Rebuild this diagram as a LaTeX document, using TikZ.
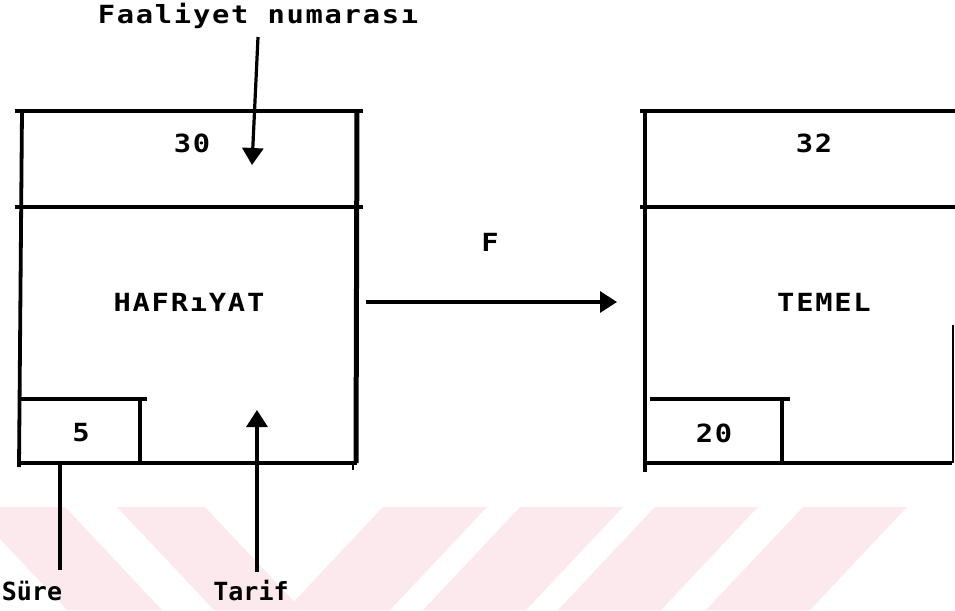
\documentclass[tikz,border=0pt]{standalone}
\usepackage{fontspec}
\newfontfamily\dotfont[FakeStretch=1.15,LetterSpace=7,BoldFont={DejaVu Sans Mono Bold},BoldFeatures={FakeStretch=1.15,LetterSpace=7}]{DejaVu Sans Mono}
\newfontfamily\dotfontb[BoldFont={DejaVu Sans Mono Bold}]{DejaVu Sans Mono}
\usetikzlibrary{arrows.meta}
\definecolor{wm}{RGB}{252,233,237}
\tikzset{
  lbl/.style={inner sep=0pt, font=\dotfont\bfseries\fontsize{25}{29}\selectfont},
  lblb/.style={inner sep=0pt, font=\dotfontb\bfseries\fontsize{25}{29}\selectfont},
  hline/.style={line width=3.2pt},
  vline/.style={line width=3.8pt},
  arr/.style={line width=3.2pt, -{Triangle[length=17pt,width=21pt]}},
  wmark/.style={fill=wm, draw=none}
}
\begin{document}
\begin{tikzpicture}[x=1pt,y=-1pt]
\useasboundingbox (0,0) rectangle (955,610);
% watermark stripes
\begin{scope}
\clip (0,0) rectangle (955,610);
\fill[wmark] (-30,507) -- (65,507) -- (162,610) -- (67,610) -- cycle;
\fill[wmark] (117,507) -- (205,507) -- (302,610) -- (214,610) -- cycle;
\fill[wmark] (383,507) -- (487,507) -- (390,610) -- (286,610) -- cycle;
\fill[wmark] (520,507) -- (623,507) -- (526,610) -- (423,610) -- cycle;
\fill[wmark] (655,507) -- (758,507) -- (661,610) -- (558,610) -- cycle;
\fill[wmark] (803,507) -- (907,507) -- (810,610) -- (706,610) -- cycle;
\end{scope}
% left activity box
\draw[hline] (15,111) -- (363,111);
\draw[hline] (15,207) -- (363,207);
\draw[hline] (18,463) -- (357,463);
\draw[vline] (22,111) -- (19,467);
\draw[line width=5pt] (357,111) -- (356,463);
\draw[line width=2.6pt] (353,463) -- (353,470);
\draw[hline] (20,399) -- (147,399);
\draw[vline] (140,399) -- (140,463);
% right activity box
\draw[hline] (640,111) -- (955,111);
\draw[hline] (640,207) -- (955,207);
\draw[hline] (645,463) -- (952,463);
\draw[vline] (645,111) -- (645,472);
\draw[line width=2.6pt] (953,325) -- (953,463);
\draw[hline] (650,399) -- (790,399);
\draw[vline] (782,399) -- (782,463);
% labels
\node[lbl] (faal) at (258,16) {Faaliyet numarası};
\node[lbl] (n30) at (192,143) {30};
\node[lbl] (hafr) at (189,302) {HAFRıYAT};
\node[lbl] (n5) at (81,433) {5};
\node[lblb] (sure) at (32,591) {Süre};
\node[lblb] (tarif) at (251,591) {Tarif};
\node[lbl] (F) at (490,242) {F};
\node[lbl] (n32) at (814,143) {32};
\node[lbl] (temel) at (824,302) {TEMEL};
\node[lbl] (n20) at (714,433) {20};
% connectors
\coordinate (faalTop) at (258,37);
\coordinate (faalTip) at (252,165);
\coordinate (tarifBot) at (257,572);
\coordinate (tarifTip) at (257,410);
\coordinate (sureTop) at (60,463);
\coordinate (sureBot) at (60,570);
\coordinate (boxR) at (366,302);
\coordinate (boxL) at (617,302);
\draw[arr] (faalTop) -- (faalTip);
\draw[arr] (tarifBot) -- (tarifTip);
\draw[line width=3.2pt] (sureTop) -- (sureBot);
\draw[arr] (boxR) -- (boxL);
\end{tikzpicture}
\end{document}
